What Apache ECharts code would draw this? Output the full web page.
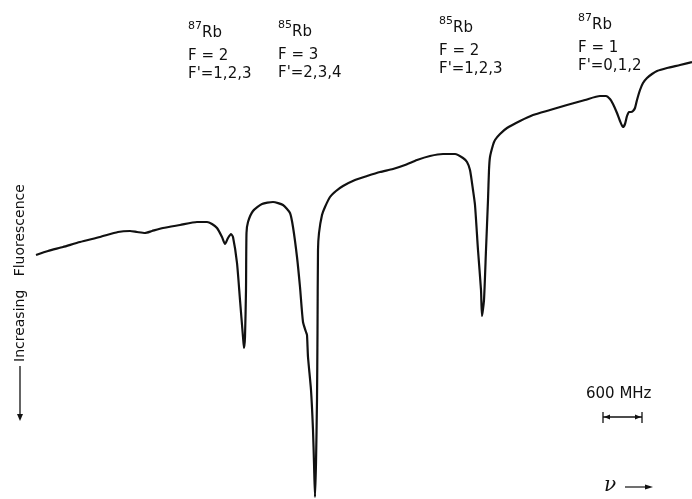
<!DOCTYPE html>
<html>
<head>
<meta charset="utf-8">
<script src="https://cdn.jsdelivr.net/npm/echarts@6/dist/echarts.min.js"></script>
<style>
    html, body { margin: 0; padding: 0; background: #fff; }
    #spectrum { width: 692px; height: 499px; }
</style>
</head>
<body>
<div id="spectrum"></div>
<script>
// laser frequency (trace units, left to right)
var freq = [36, 48, 63, 80, 100, 118, 130, 137, 145, 152, 163, 180, 197, 207, 212, 217, 222, 225, 228, 231, 233,
    237, 240, 243, 244, 245, 246, 246.5, 248, 253, 262, 273, 283, 290, 293, 297, 300, 303, 306, 307,
    308, 311, 313, 314, 315, 316, 317, 317.5, 318, 319, 322, 325, 330, 336, 343, 355, 367, 380, 393,
    405, 417, 430, 443, 455, 463, 467, 470, 473, 475, 478, 481, 482, 484, 486, 488, 489, 490, 493, 495,
    500, 507, 520, 533, 550, 567, 585, 600, 606, 610, 613, 617, 620, 623, 625, 627, 629, 631, 633, 635,
    637, 640, 643, 647, 652, 657, 667, 680, 692];
// fluorescence (increasing downwards)
var fluor = [255, 251, 247, 242, 237, 232, 231, 232, 233, 231, 228, 225, 222, 222, 224, 228, 237, 244, 238, 234, 237,
    263, 300, 337, 348, 337, 290, 233, 222, 211, 204, 202, 205, 213, 227, 257, 287, 322, 332, 335,
    357, 390, 430, 463, 497, 463, 400, 333, 250, 233, 215, 207, 197, 191, 186, 180, 176, 172, 169,
    165, 160, 156, 154, 154, 158, 162, 170, 190, 205, 250, 290, 316, 300, 250, 200, 170, 157, 145, 140,
    134, 128, 121, 115, 110, 105, 100, 96, 96, 99, 104, 113, 121, 127, 124, 116, 112, 112, 111, 108,
    100, 90, 83, 78, 74, 71, 68, 65, 62];

var isotopes = ['87', '85', '85', '87'];
var lowerF = ['F = 2', 'F = 3', 'F = 2', 'F = 1'];
var upperF = ["F'=1,2,3", "F'=2,3,4", "F'=1,2,3", "F'=0,1,2"];
var labelPos = [[188, 23], [278, 22], [439, 18], [578, 15]];

var points = [];
for (var i = 0; i < freq.length; i++) {
    points.push([freq[i], fluor[i]]);
}

var FONT = '"DejaVu Sans", sans-serif';

function txt(x, y, text, size) {
    return {
        type: 'text',
        x: x,
        y: y,
        style: {
            text: text,
            font: size + 'px ' + FONT,
            fill: '#111',
            align: 'left',
            verticalAlign: 'top',
            textAlign: 'left',
            textVerticalAlign: 'top'
        }
    };
}

var graphics = [];
for (var k = 0; k < isotopes.length; k++) {
    var px = labelPos[k][0];
    var py = labelPos[k][1];
    graphics.push(txt(px, py - 2, isotopes[k], 11));
    graphics.push(txt(px + 14, py + 3, 'Rb', 15));
    graphics.push(txt(px, py + 26, lowerF[k], 15));
    graphics.push(txt(px, py + 44, upperF[k], 15));
}

// vertical title with arrow
graphics.push({
    type: 'text',
    x: 20,
    y: 362,
    rotation: Math.PI / 2,
    style: {
        text: 'Increasing   Fluorescence',
        font: '14px ' + FONT,
        fill: '#111',
        align: 'left',
        verticalAlign: 'middle',
        textAlign: 'left',
        textVerticalAlign: 'middle'
    }
});
graphics.push({ type: 'line', shape: { x1: 20, y1: 366, x2: 20, y2: 416 }, style: { stroke: '#111', lineWidth: 1.3 } });
graphics.push({ type: 'polygon', shape: { points: [[17, 414], [23, 414], [20, 421]] }, style: { fill: '#111' } });

// 600 MHz scale bar
graphics.push(txt(586, 387, '600 MHz', 15));
graphics.push({ type: 'line', shape: { x1: 603, y1: 417, x2: 642, y2: 417 }, style: { stroke: '#111', lineWidth: 1.3 } });
graphics.push({ type: 'line', shape: { x1: 603, y1: 412, x2: 603, y2: 423 }, style: { stroke: '#111', lineWidth: 1.3 } });
graphics.push({ type: 'line', shape: { x1: 642, y1: 412, x2: 642, y2: 423 }, style: { stroke: '#111', lineWidth: 1.3 } });
graphics.push({ type: 'polygon', shape: { points: [[604, 417], [610, 414.5], [610, 419.5]] }, style: { fill: '#111' } });
graphics.push({ type: 'polygon', shape: { points: [[641, 417], [635, 414.5], [635, 419.5]] }, style: { fill: '#111' } });

// frequency arrow
graphics.push({
    type: 'text',
    x: 604,
    y: 476,
    style: {
        text: 'ν',
        font: 'italic 20px "DejaVu Serif", serif',
        fill: '#111',
        align: 'left',
        verticalAlign: 'top',
        textAlign: 'left',
        textVerticalAlign: 'top'
    }
});
graphics.push({ type: 'line', shape: { x1: 625, y1: 487, x2: 648, y2: 487 }, style: { stroke: '#111', lineWidth: 1.2 } });
graphics.push({ type: 'polygon', shape: { points: [[645, 484.5], [645, 489.5], [653, 487]] }, style: { fill: '#111' } });

var chart = echarts.init(document.getElementById('spectrum'));
chart.setOption({
    backgroundColor: '#fff',
    animation: false,
    grid: {
        left: 0,
        right: 0,
        top: 0,
        bottom: 0
    },
    xAxis: {
        type: 'value',
        min: 0,
        max: 692,
        show: false
    },
    yAxis: {
        type: 'value',
        min: 0,
        max: 499,
        inverse: true,
        show: false
    },
    series: [{
        type: 'line',
        data: points,
        showSymbol: false,
        smooth: 0.2,
        lineStyle: {
            color: '#111',
            width: 2.2,
            join: 'round'
        }
    }],
    graphic: graphics
});
</script>
</body>
</html>
